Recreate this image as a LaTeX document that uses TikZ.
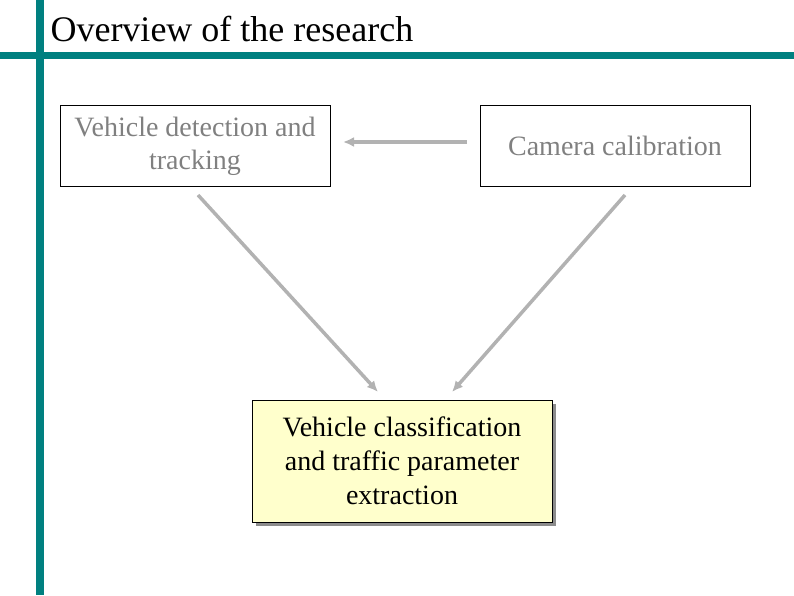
\documentclass[tikz,border=0pt]{standalone}
\usepackage{fontspec}
\setmainfont{Liberation Serif}
\usetikzlibrary{arrows.meta}
\definecolor{teal}{RGB}{0,128,128}
\definecolor{paleyellow}{RGB}{255,255,204}
\begin{document}
\begin{tikzpicture}
  [x=1pt,y=1pt,
   block/.style={rectangle,draw=black,thin,align=center,
                  outer sep=0,minimum width=270pt,minimum height=81pt,
                  font=\fontsize{28}{33}\selectfont},
   result/.style={rectangle,draw=black,thin,fill=paleyellow,align=center,
                  outer sep=0,minimum width=300pt,minimum height=122pt,
                  font=\fontsize{28}{34}\selectfont},
   link/.style={draw=black!30,line width=3.5pt,-{Latex[length=11pt,width=10pt]}}]
  \useasboundingbox (0,0) rectangle (794,595);
  \fill[teal] (36,0) rectangle (44,595);
  \fill[teal] (0,536) rectangle (794,543);
  \node[anchor=base west,font=\fontsize{36}{40}\selectfont] (title) at (47,553) {Overview of the research};
  \node[block,text=black!50] (track) at (195,449) {Vehicle detection and\\tracking};
  \node[block,text=black!50] (calib) at (615,449) {Camera calibration};
  \fill[black!45] (256,69) rectangle (556,191);
  \node[result] (classify) at (402,134) {Vehicle classification\\and traffic parameter\\extraction};
  \coordinate (trackout) at (198,400);
  \coordinate (calibout) at (625,400);
  \coordinate (classl) at (378,203);
  \coordinate (classr) at (452,203);
  \draw[link] (calib.west) ++(-13,4) -- ([xshift=13pt,yshift=4pt]track.east);
  \draw[link] (trackout) -- (classl);
  \draw[link] (calibout) -- (classr);
\end{tikzpicture}
\end{document}
